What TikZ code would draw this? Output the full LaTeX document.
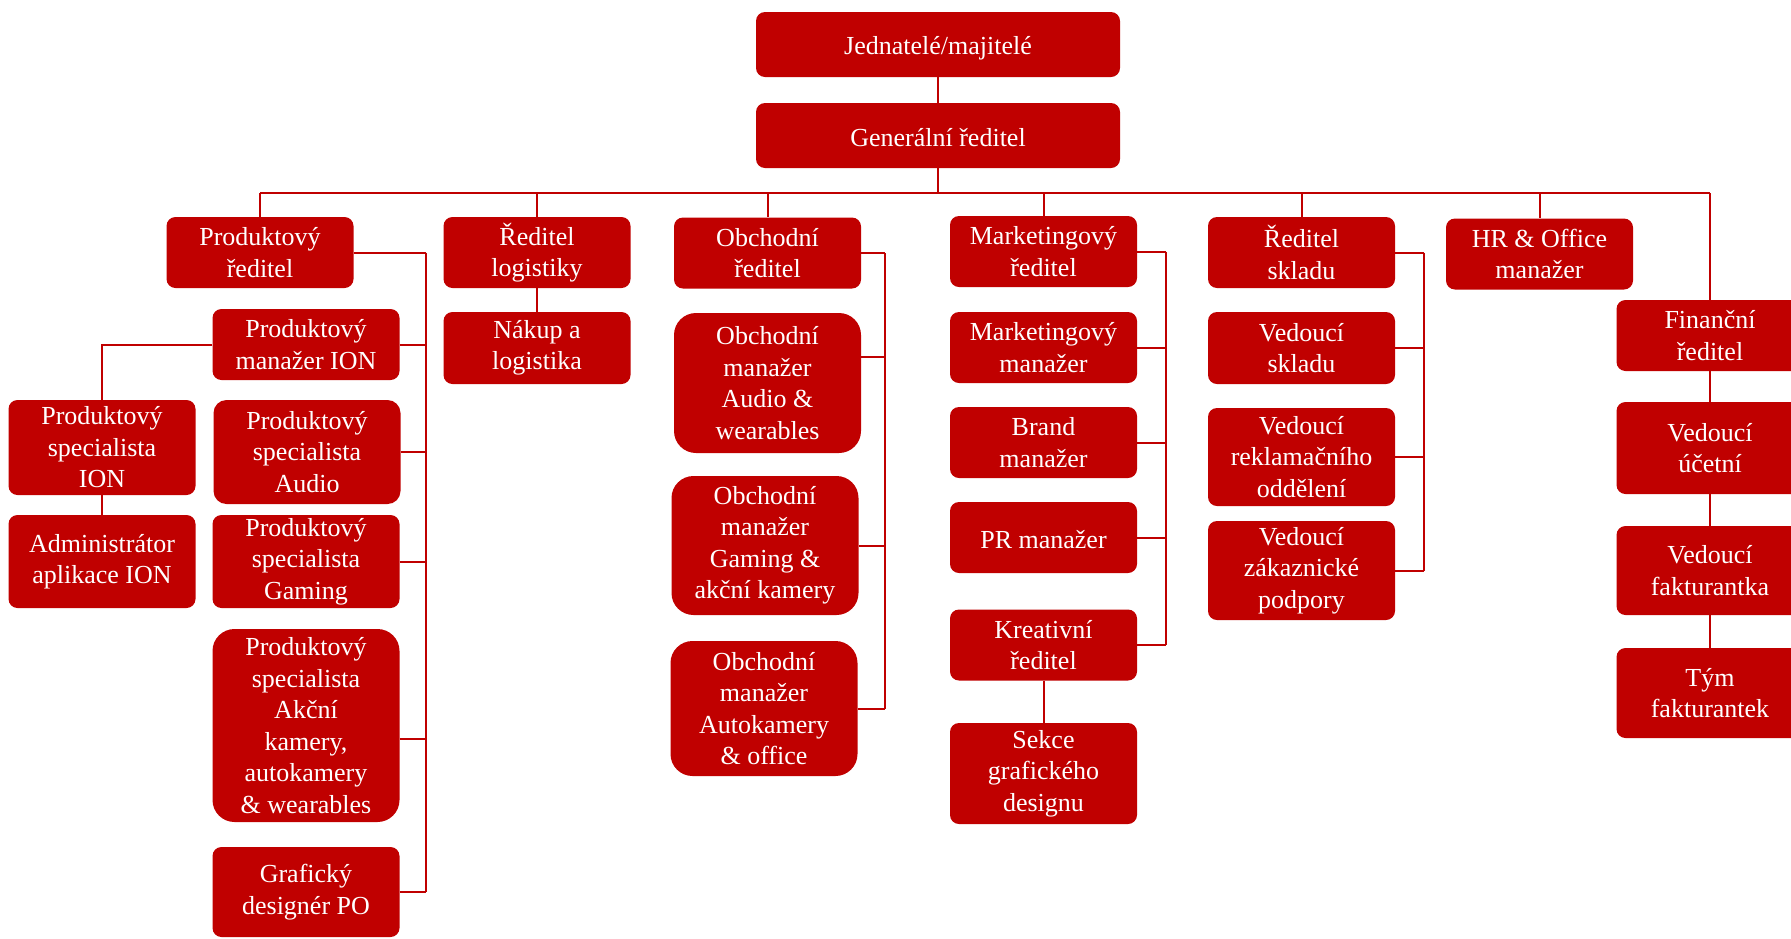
\documentclass[tikz,border=0pt]{standalone}
\usepackage{fontspec}
\setmainfont{Liberation Serif}
\usepackage{tikz}
\definecolor{cred}{HTML}{C00000}

\begin{document}
\begin{tikzpicture}[x=1pt,y=-1pt]
\def \bw {187}
\def \bh {71}
\tikzstyle{every node}=[font=\fontsize{26}{31.5}\selectfont]
\tikzstyle{unit}=[rectangle,rounded corners=9pt,fill=cred,text=white,align=center,inner sep=0pt,minimum width=\bw pt,minimum height=\bh pt]
\tikzstyle{tall}=[unit,rounded corners=22pt]
\tikzstyle{link}=[draw=cred,line width=2pt]
\useasboundingbox (0,0) rectangle (1791,938);

% top
\node[unit,minimum width=364pt,minimum height=65pt] (jedn) at (938,44.5) {\raisebox{-4pt}[\height][\depth]{Jednatelé/majitelé}};
\node[unit,minimum width=364pt,minimum height=65pt] (gen)  at (938,135.5) {\raisebox{-2pt}[\height][\depth]{Generální ředitel}};

% directors
\node[unit] (prodRed) at ( 260,252.5) {Produktový\\ředitel};
\node[unit] (logRed)  at ( 537,252.5) {Ředitel\\logistiky};
\node[unit] (obchRed) at (767.5,253)  {Obchodní\\ředitel};
\node[unit] (mktRed)  at (1043.5,251.5) {Marketingový\\ředitel};
\node[unit] (sklRed)  at (1301.5,252.5) {Ředitel\\skladu};
\node[unit] (hr)      at (1539.5,254) {HR \& Office\\manažer};
\node[unit] (finRed)  at (1710,335.5) {Finanční\\ředitel};

% product
\node[unit]                     (pmION)    at (306,344.5) {Produktový\\manažer ION};
\node[unit,minimum height=95pt] (psION)    at (102,447.5) {Produktový\\specialista\\ION};
\node[unit,minimum height=93pt] (admin)    at (102,561.5) {Administrátor\\aplikace ION};
\node[unit,minimum height=104pt,rounded corners=13pt] (psAudio) at (307,452) {Produktový\\specialista\\Audio};
\node[unit,minimum height=93pt] (psGaming) at (306,561.5) {Produktový\\specialista\\Gaming};
\node[tall,minimum height=193pt] (psAkcni) at (306,725.5) {Produktový\\specialista\\Akční\\kamery,\\autokamery\\\& wearables};
\node[unit,minimum height=90pt] (grafPO)   at (306,892) {Grafický\\designér PO};

% logistics
\node[unit,minimum height=72pt] (nakup) at (537,348) {Nákup a\\logistika};

% sales
\node[tall,minimum height=140pt] (omAudio)  at (767.5,383) {Obchodní\\manažer\\Audio \&\\wearables};
\node[tall,minimum height=139pt] (omGaming) at (765,545.5) {Obchodní\\manažer\\Gaming \&\\akční kamery};
\node[tall,minimum height=135pt] (omAuto)   at (764,708.5) {Obchodní\\manažer\\Autokamery\\\& office};

% marketing
\node[unit] (mktMan) at (1043.5,347.5) {Marketingový\\manažer};
\node[unit] (brand)  at (1043.5,442.5) {Brand\\manažer};
\node[unit] (pr)     at (1043.5,537.5) {\raisebox{-2pt}[\height][\depth]{PR manažer}};
\node[unit] (kreat)  at (1043.5,645) {Kreativní\\ředitel};
\node[unit,minimum height=101pt] (sekce) at (1043.5,773.5) {Sekce\\grafického\\designu};

% warehouse
\node[unit,minimum height=72pt] (vedSkl) at (1301.5,348) {Vedoucí\\skladu};
\node[unit,minimum height=98pt] (reklam) at (1301.5,457) {Vedoucí\\reklamačního\\oddělení};
\node[unit,minimum height=99pt] (zakaz)  at (1301.5,570.5) {Vedoucí\\zákaznické\\podpory};

% finance
\node[unit,minimum height=92pt] (ucet)   at (1710,448) {Vedoucí\\účetní};
\node[unit,minimum height=89pt] (faktur) at (1710,570.5) {Vedoucí\\fakturantka};
\node[unit,minimum height=90pt] (tym)    at (1710,693) {Tým\\fakturantek};

% connectors
\coordinate (bus) at (938,193);
\coordinate (pv)  at (426,0);
\coordinate (ov)  at (885,0);
\coordinate (mv)  at (1166,0);
\coordinate (sv)  at (1424,0);
\coordinate (omAudioC) at ([yshift=26pt]omAudio.east);
\coordinate (psAkcniC) at ([yshift=-13pt]psAkcni.east);

\draw[link] (jedn) -- (gen);
\draw[link] (gen) -- (bus);
\draw[link] (bus -| prodRed) -- (bus -| finRed);
\foreach \n in {prodRed,logRed,obchRed,mktRed,sklRed,hr,finRed}
  \draw[link] (bus -| \n) -- (\n);

\foreach \n in {prodRed.east,pmION.east,psAudio.east,psGaming.east,psAkcniC,grafPO.east}
  \draw[link] (\n) -- (\n -| pv);
\draw[link] (prodRed.east -| pv) -- (grafPO.east -| pv);
\draw[link] (pmION.west) -| (psION.north);
\draw[link] (psION) -- (admin);

\draw[link] (logRed) -- (nakup);

\foreach \n in {obchRed.east,omAudioC,omGaming.east,omAuto.east}
  \draw[link] (\n) -- (\n -| ov);
\draw[link] (obchRed.east -| ov) -- (omAuto.east -| ov);

\foreach \n in {mktRed.east,mktMan.east,brand.east,pr.east,kreat.east}
  \draw[link] (\n) -- (\n -| mv);
\draw[link] (mktRed.east -| mv) -- (kreat.east -| mv);
\draw[link] (kreat) -- (sekce);

\foreach \n in {sklRed.east,vedSkl.east,reklam.east,zakaz.east}
  \draw[link] (\n) -- (\n -| sv);
\draw[link] (sklRed.east -| sv) -- (zakaz.east -| sv);

\draw[link] (finRed) -- (ucet);
\draw[link] (ucet) -- (faktur);
\draw[link] (faktur) -- (tym);
\end{tikzpicture}
\end{document}
